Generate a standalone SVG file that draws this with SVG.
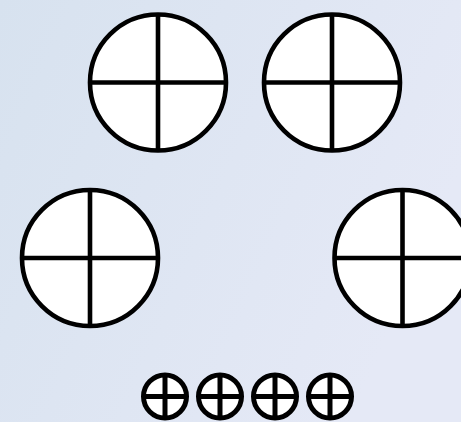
<svg xmlns="http://www.w3.org/2000/svg" width="461" height="422" viewBox="0 0 461 422">
  <defs>
    <linearGradient id="bg" x1="0" y1="0" x2="1" y2="0.4">
      <stop offset="0" stop-color="#d7e2ef"/>
      <stop offset="1" stop-color="#e5e9f6"/>
    </linearGradient>
    <style>
      .ring { fill: #ffffff; stroke: #000000; stroke-width: 4.6; }
      .bar { stroke: #000000; stroke-width: 4.6; fill: none; }
      .kring { fill: #ffffff; stroke: #000000; stroke-width: 5; }
      .kbar { stroke: #000000; stroke-width: 5; fill: none; }
    </style>
  </defs>
  <rect x="0" y="0" width="461" height="422" fill="url(#bg)"/>

  <g id="burner-top-left">
    <circle class="ring" cx="158" cy="82.5" r="68"/>
    <line class="bar" x1="90" y1="82.5" x2="226" y2="82.5"/>
    <line class="bar" x1="158" y1="14.5" x2="158" y2="150.5"/>
  </g>
  <g id="burner-top-right">
    <circle class="ring" cx="332" cy="82.5" r="68"/>
    <line class="bar" x1="264" y1="82.5" x2="400" y2="82.5"/>
    <line class="bar" x1="332" y1="14.5" x2="332" y2="150.5"/>
  </g>
  <g id="burner-bottom-left">
    <circle class="ring" cx="90" cy="258" r="68"/>
    <line class="bar" x1="22" y1="258" x2="158" y2="258"/>
    <line class="bar" x1="90" y1="190" x2="90" y2="326"/>
  </g>
  <g id="burner-bottom-right">
    <circle class="ring" cx="402.5" cy="258" r="68"/>
    <line class="bar" x1="334.5" y1="258" x2="470.5" y2="258"/>
    <line class="bar" x1="402.5" y1="190" x2="402.5" y2="326"/>
  </g>

  <g id="knob-1">
    <circle class="kring" cx="165" cy="396.5" r="21.5"/>
    <line class="kbar" x1="143.5" y1="396.5" x2="186.5" y2="396.5"/>
    <line class="kbar" x1="165" y1="375" x2="165" y2="418"/>
  </g>
  <g id="knob-2">
    <circle class="kring" cx="220" cy="396.5" r="21.5"/>
    <line class="kbar" x1="198.5" y1="396.5" x2="241.5" y2="396.5"/>
    <line class="kbar" x1="220" y1="375" x2="220" y2="418"/>
  </g>
  <g id="knob-3">
    <circle class="kring" cx="275" cy="396.5" r="21.5"/>
    <line class="kbar" x1="253.5" y1="396.5" x2="296.5" y2="396.5"/>
    <line class="kbar" x1="275" y1="375" x2="275" y2="418"/>
  </g>
  <g id="knob-4">
    <circle class="kring" cx="330" cy="396.5" r="21.5"/>
    <line class="kbar" x1="308.5" y1="396.5" x2="351.5" y2="396.5"/>
    <line class="kbar" x1="330" y1="375" x2="330" y2="418"/>
  </g>
</svg>
